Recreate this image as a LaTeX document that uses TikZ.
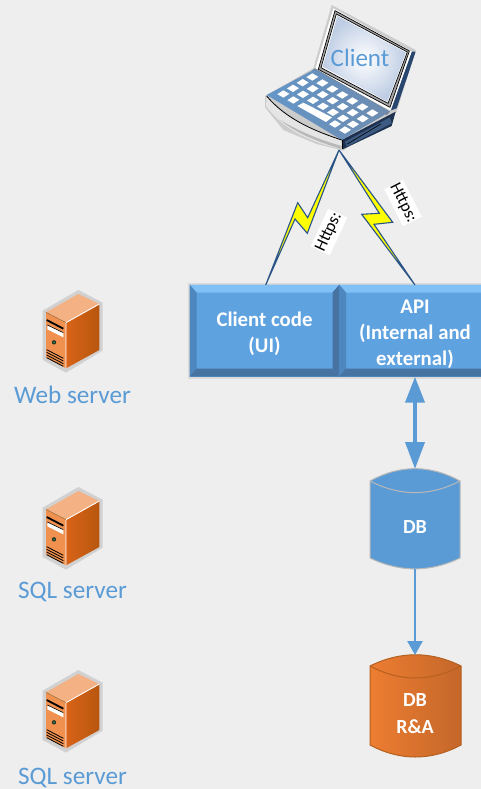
\documentclass[tikz,border=0pt]{standalone}
\usepackage{fontspec}
\setmainfont{Carlito}
\usetikzlibrary{arrows.meta}
\definecolor{bgc}{HTML}{EEEEEE}
\definecolor{face}{HTML}{5FA2E0}
\definecolor{lblue}{HTML}{5B9BD5}
\definecolor{navy}{HTML}{2A5388}
\definecolor{boltc}{HTML}{FFFF00}
\tikzset{
  bevelbox/.style={fill=face, inner sep=0pt, minimum width=#1, minimum height=92pt, align=center,
    text=white, font=\fontsize{20.8}{26}\selectfont\bfseries,
    path picture={
      \coordinate (sw) at (path picture bounding box.south west);
      \coordinate (ne) at (path picture bounding box.north east);
      \coordinate (nw) at (sw|-ne);
      \coordinate (se) at (ne|-sw);
      \fill[color={rgb,255:red,128;green,192;blue,245}] (nw)--(ne)--([shift={(-7pt,-8pt)}]ne)--([shift={(7pt,-8pt)}]nw)--cycle;
      \fill[color={rgb,255:red,78;green,134;blue,190}] (nw)--(sw)--([shift={(7pt,8pt)}]sw)--([shift={(7pt,-8pt)}]nw)--cycle;
      \fill[color={rgb,255:red,70;green,115;blue,162}] (ne)--(se)--([shift={(-7pt,8pt)}]se)--([shift={(-7pt,-8pt)}]ne)--cycle;
      \fill[color={rgb,255:red,70;green,115;blue,162}] (sw)--(se)--([shift={(-7pt,8pt)}]se)--([shift={(7pt,8pt)}]sw)--cycle;
    }},
  boltshape/.style={draw=navy, fill=boltc, line width=1.1pt, line join=miter},
  httpslabel/.style={fill=white, inner sep=0pt, minimum width=39pt, minimum height=21pt, font=\fontsize{17}{18}\selectfont},
  caption/.style={text=lblue, font=\fontsize{25.2}{26}\selectfont, inner sep=0pt, anchor=base},
  dbtext/.style={text=white, font=\fontsize{20}{27}\selectfont\bfseries, inner sep=0pt, align=center},
  linkarrow/.style={color=lblue, line width=#1},
  server/.pic={
    \begin{scope}[scale=1/3]
      \fill[color=black!18] (205,30)--(278,68)--(278,212)--(168,278)--(98,240)--(98,92)--cycle;
      \fill[color={rgb,255:red,244;green,177;blue,131}] (205,42)--(268,72)--(168,128)--(108,97)--cycle;
      \fill[color={rgb,255:red,240;green,145;blue,79}] (108,97)--(168,128)--(168,265)--(108,232)--cycle;
      \shade[left color={rgb,255:red,216;green,100;blue,24}, right color={rgb,255:red,184;green,86;blue,14}] (168,128)--(268,72)--(268,210)--(168,265)--cycle;
      \draw[white, line width=.9pt] (168,128)--(268,72) (168,128)--(168,265);
      \draw[color={rgb,255:red,150;green,110;blue,60}, line width=.5pt] (108,97)--(168,128);
      \draw[black, line width=1.8pt] (110,120)--(160,146);
      \fill[white] (112,135)--(160,158)--(160,172)--(112,148)--cycle;
      \draw[black, line width=.6pt] (112,135)--(160,158);
      \fill[color={rgb,255:red,30;green,50;blue,35}] (132,187) circle (6.5);
      \fill[color={rgb,255:red,50;green,130;blue,90}] (132,187) circle (3);
      \draw[black, line width=.8pt] (110,209)--(160,235) (110,217)--(160,243) (110,225)--(160,251) (110,233)--(160,259);
    \end{scope}
  }
}
\begin{document}
\begin{tikzpicture}[x=1pt,y=-1pt]
\clip (0,0) rectangle (481,789);
\fill[bgc] (0,0) rectangle (481,789);

% servers
\pic at (10,280) {server};
\pic at (10,477) {server};
\pic at (10,660) {server};
\node[caption] (webcap) at (72.5,403) {Web server};
\node[caption] (sqlcapa) at (72.5,598) {SQL server};
\node[caption] (sqlcapb) at (72.5,784) {SQL server};

% laptop
\begin{scope}[shift={(250,0)},scale=1/3]
  \fill[color=black!20] (245,15)--(497,150)--(440,335)--(280,452)--(200,432)--(100,390)--(45,322)--(45,288)--(190,205)--cycle;
  \fill[color={rgb,255:red,40;green,70;blue,110}] (485,155)--(497,155)--(440,325)--(420,332)--cycle;
  \fill[color=white] (250,25)--(485,155)--(422,332)--(195,210)--cycle;
  \draw[black, line width=.7pt, fill=black!35] (255,32)--(478,153)--(420,322)--(205,208)--cycle;
  \draw[black, line width=.7pt, fill=white] (259,42)--(472,156)--(414,310)--(213,203)--cycle;
  \shade[inner color=white, outer color={rgb,255:red,190;green,205;blue,228}] (262,48)--(468,158)--(412,305)--(218,200)--cycle;
  \fill[color={rgb,255:red,30;green,50;blue,80}] (275,420)--(437,335)--(425,378)--(278,448)--cycle;
  \fill[color={rgb,255:red,60;green,90;blue,130}] (285,425)--(420,352)--(425,370)--(290,440)--cycle;
  \draw[black, line width=.6pt] (292,432)--(392,372);
  \fill[color=black!55] (195,205)--(420,335)--(410,345)--(185,212)--cycle;
  \shade[left color={rgb,255:red,100;green,150;blue,200}, right color={rgb,255:red,110;green,140;blue,175}] (50,285)--(195,207)--(420,335)--(275,420)--cycle;
  \fill[color=black!10] (50,288) .. controls (110,360) and (200,395) .. (275,420)--(275,447) .. controls (190,430) and (100,390) .. (48,318)--cycle;
  \fill[color=black!28] (90,360) .. controls (140,400) and (200,425) .. (275,447)--(275,438) .. controls (210,420) and (150,395) .. (90,360)--cycle;
  \draw[black, line width=.8pt] (50,288) .. controls (110,360) and (200,395) .. (275,420);
  \fill[black] (275,420)--(280,420)--(280,447)--(275,447)--cycle;
  \foreach \cx/\cy in {100/282,130/300,255/372,285/390,
      129/265,159/283,189/301,219/319,249/337,279/355,309/373,
      158/248,188/266,218/284,248/302,278/320,308/338,338/356,
      187/231,217/249,247/267,277/285,307/303,337/321,367/339}{
    \fill[white] (\cx-18,\cy+.5)--(\cx,\cy-11)--(\cx+18,\cy-.5)--(\cx,\cy+11)--cycle;
  }
  \fill[white] (142,318)--(160,308)--(246,352)--(228,366)--cycle;
\end{scope}
\node[text=lblue, font=\fontsize{25}{26}\selectfont, inner sep=0pt] (client) at (360,57.5) {Client};

% boxes
\fill[color=black!14] (187.5,282.5) rectangle (481,379);
\node[bevelbox=150pt] (code) at (264.5,330.5) {\rule{0pt}{21.5pt}Client code\\(UI)};
\node[bevelbox=152pt] (api) at (415,330.5) {\rule{0pt}{21.5pt}API\\(Internal and\\external)};

% lightning connectors
\coordinate (tip) at (339,150);
\coordinate (codetop) at (265.7,285);
\coordinate (apitop) at (415,285);
\draw[boltshape] (tip)--(307.7,217.7)--(297.7,202.7)--(codetop)--(295,219)--(307.3,233.3)--cycle;
\draw[boltshape] (tip)--(392.7,222.3)--(374,224.3)--(apitop)--(361.7,214.3)--(379.3,213.3)--cycle;
\node[httpslabel, rotate=65] (httpsa) at (329,232) {Https:};
\node[httpslabel, rotate=-63] (httpsb) at (403,203) {Https:};

% DB
\coordinate (dbtop) at (415,469);
\coordinate (dbbot) at (415,569);
\coordinate (ratop) at (415,655);
\draw[color=black!28, line width=1pt, fill=lblue] (370,481) .. controls (400,464.5) and (430,464.5) .. (460,481)--(460,558) .. controls (430,572.5) and (400,572.5) .. (370,558)--cycle;
\draw[color=black!28, line width=1pt] (370,481) .. controls (400,496.5) and (430,496.5) .. (460,481);
\node[dbtext] (db) at (415,527) {DB};

% DB R&A
\definecolor{oedge}{HTML}{B5601F}
\shade[left color={rgb,255:red,237;green,125;blue,49}, right color={rgb,255:red,196;green,103;blue,42}] (370,666) .. controls (400,651) and (431,651) .. (461,666)--(461,745) .. controls (431,761) and (400,761) .. (370,745)--cycle;
\draw[oedge, line width=1pt] (370,666) .. controls (400,651) and (431,651) .. (461,666)--(461,745) .. controls (431,761) and (400,761) .. (370,745)--cycle;
\draw[oedge, line width=1pt] (370,666) .. controls (400,682) and (431,682) .. (461,666);
\node[dbtext] (dbra) at (415,713.5) {DB\\R\&A};

% arrows
\draw[linkarrow=4pt, {Triangle[length=26pt,width=19pt]}-{Triangle[length=27pt,width=19pt]}] (api.south) -- (dbtop);
\draw[linkarrow=2.5pt, -{Triangle[length=14pt,width=15pt]}] (dbbot) -- (ratop);
\end{tikzpicture}
\end{document}
